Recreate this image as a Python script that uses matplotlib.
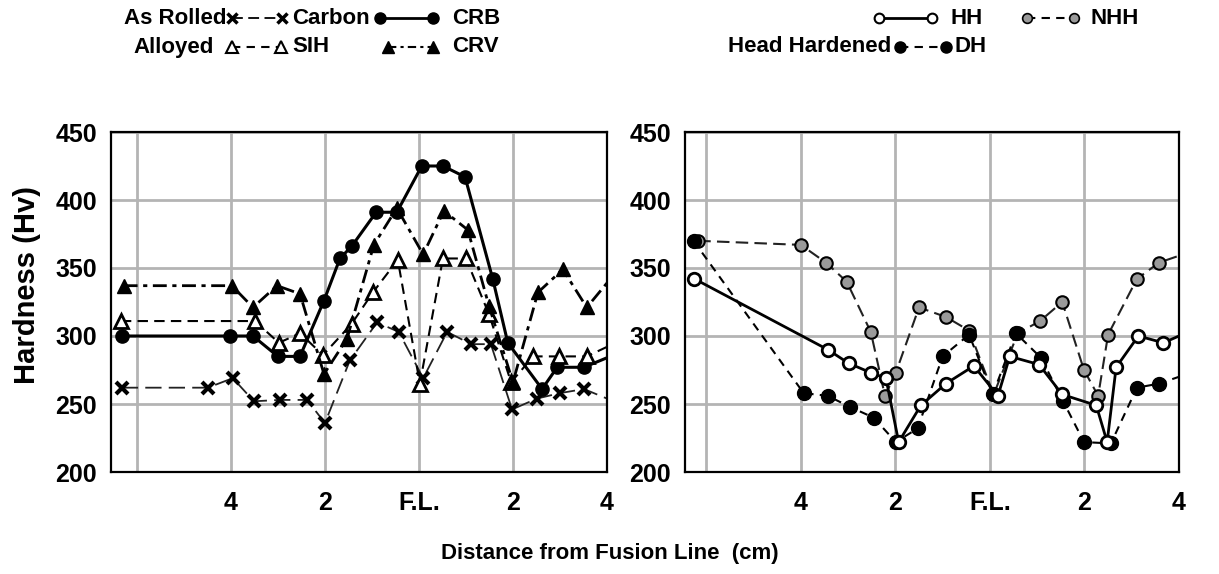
import matplotlib
matplotlib.use("Agg")
import matplotlib.pyplot as plt

plt.rcParams['font.family'] = ['Liberation Sans', 'DejaVu Sans']
plt.rcParams['font.weight'] = 'bold'

# distance from fusion line in cm (negative = left of F.L.), hardness in Hv
# rail steels: as rolled carbon / alloyed
ar_x = [-6.32, -4.49, -3.96, -3.51, -2.96, -2.38, -2.0, -1.47, -0.89, -0.43, 0.09, 0.6, 1.11, 1.53, 1.98, 2.51, 3.0, 3.51, 4.0]
ar_y = [262, 262, 269, 252, 253, 253, 236, 282, 310, 303, 269, 303, 294, 294, 246, 254, 258, 261, 254]

crb_x = [-6.32, -4.02, -3.53, -3.0, -2.53, -2.02, -1.68, -1.43, -0.91, -0.47, 0.06, 0.51, 0.98, 1.57, 1.89, 2.62, 2.94, 3.51, 4.0]
crb_y = [300, 300, 300, 285, 285, 326, 357, 366, 391, 391, 425, 425, 417, 342, 295, 261, 277, 277, 284]

sih_x = [-6.34, -3.49, -2.98, -2.53, -2.04, -1.43, -0.98, -0.45, 0.02, 0.51, 1.0, 1.49, 1.96, 2.43, 2.98, 3.57, 4.0]
sih_y = [311, 311, 295, 302, 286, 309, 332, 356, 265, 357, 357, 316, 266, 285, 285, 285, 292]

crv_x = [-6.28, -3.98, -3.53, -3.02, -2.53, -2.02, -1.53, -0.96, -0.47, 0.09, 0.53, 1.04, 1.49, 2.0, 2.53, 3.06, 3.57, 4.0]
crv_y = [337, 337, 321, 337, 331, 272, 298, 367, 394, 360, 392, 378, 322, 266, 332, 349, 321, 339]

# head hardened rails
hh_x = [-6.25, -3.43, -2.99, -2.52, -2.2, -1.93, -1.46, -0.93, -0.34, 0.17, 0.42, 1.04, 1.53, 2.25, 2.48, 2.67, 3.14, 3.67, 4.0]
hh_y = [342, 290, 280, 273, 269, 222, 249, 265, 278, 256, 285, 279, 257, 249, 222, 277, 300, 295, 300]

nhh_x = [-6.17, -4.0, -3.47, -3.03, -2.52, -2.22, -1.99, -1.5, -0.93, -0.44, 0.08, 0.59, 1.06, 1.53, 1.99, 2.29, 2.5, 3.11, 3.58, 4.0]
nhh_y = [370, 367, 354, 340, 303, 256, 273, 321, 314, 304, 257, 302, 311, 325, 275, 256, 301, 342, 354, 359]

dh_x = [-6.27, -3.94, -3.43, -2.97, -2.46, -1.99, -1.53, -1.0, -0.44, 0.06, 0.55, 1.08, 1.55, 1.99, 2.56, 3.11, 3.58, 4.0]
dh_y = [370, 258, 256, 248, 240, 222, 232, 285, 301, 257, 302, 284, 252, 222, 221, 262, 265, 270]

xticks = [-6, -4, -2, 0, 2, 4]
xticklabels = ['', '4', '2', 'F.L.', '2', '4']
yticks = [200, 250, 300, 350, 400, 450]

W, H = 1219, 574
fig = plt.figure(figsize=(W / 100, H / 100), dpi=100)

ax1 = fig.add_axes([111 / W, 1 - 472 / H, 496 / W, 340 / H])
ax2 = fig.add_axes([685 / W, 1 - 472 / H, 494 / W, 340 / H])

# last point of each series is where the line leaves the frame, no marker there
noend = slice(0, -1)

ax1.plot(ar_x, ar_y, color='#222222', lw=1.3, dashes=(9, 4), marker='x', ms=8, mew=3,
         mec='black', markevery=noend)
ax1.plot(crb_x, crb_y, color='black', lw=2.2, marker='o', ms=9.5, mfc='black',
         mec='black', markevery=noend)
ax1.plot(sih_x, sih_y, color='black', lw=1.5, dashes=(5, 3), marker='^', ms=10,
         mfc='white', mec='black', mew=2, markevery=noend)
ax1.plot(crv_x, crv_y, color='black', lw=2, dashes=(5, 2, 1.5, 2), marker='^', ms=10,
         mfc='black', mec='black', markevery=noend)
ax1.set_xlim(-6.55, 4)

ax2.plot(nhh_x, nhh_y, color='#222222', lw=1.5, dashes=(6, 3), marker='o', ms=9,
         mfc='#9a9a9a', mec='black', mew=1.5, markevery=noend)
ax2.plot(dh_x, dh_y, color='black', lw=1.5, dashes=(4, 3), marker='o', ms=10,
         mfc='black', mec='black', markevery=noend)
ax2.plot(hh_x, hh_y, color='black', lw=2, marker='o', ms=9, mfc='white',
         mec='black', mew=2, markevery=noend)
ax2.set_xlim(-6.45, 4)

for ax in (ax1, ax2):
    ax.set_ylim(200, 450)
    ax.set_xticks(xticks)
    ax.set_xticklabels(xticklabels)
    ax.set_yticks(yticks)
    ax.grid(True, color='#b4b4b4', lw=2)
    ax.set_axisbelow(True)
    ax.tick_params(length=0, labelsize=18, pad=10)
    ax.tick_params(axis='x', pad=14)
    for s in ax.spines.values():
        s.set_linewidth(1.6)
        s.set_color('black')
    for lab in ax.get_xticklabels() + ax.get_yticklabels():
        lab.set_fontweight('bold')

fig.text(27 / W, 1 - 285 / H, 'Hardness (Hv)', rotation=90, ha='center', va='center',
         fontsize=21, fontweight='bold')
fig.text(610 / W, 1 - 553 / H, 'Distance from Fusion Line  (cm)', ha='center',
         va='center', fontsize=16, fontweight='bold')

# legend block drawn on an overlay in pixel units
lg = fig.add_axes([0, 0, 1, 1])
lg.set_xlim(0, W)
lg.set_ylim(H, 0)
lg.axis('off')

fs = 16
r1, r2 = 18, 47


def sample(x0, x1, y, **kw):
    lg.plot([x0, x1], [y, y], **kw)


lg.text(226, r1, 'As Rolled', ha='right', va='center', fontsize=fs, fontweight='bold')
sample(232, 282, r1, color='black', lw=1.3, dashes=(6, 3), marker='x', ms=7, mew=2.5)
lg.text(292, r1, 'Carbon', ha='left', va='center', fontsize=fs, fontweight='bold')
sample(380, 433, r1, color='black', lw=2, marker='o', ms=8, mfc='black')
lg.text(452, r1, 'CRB', ha='left', va='center', fontsize=fs, fontweight='bold')

lg.text(133, r2, 'Alloyed', ha='left', va='center', fontsize=fs, fontweight='bold')
sample(232, 281, r2, color='black', lw=1.5, dashes=(4, 3), marker='^', ms=8,
       mfc='white', mec='black', mew=1.5)
lg.text(292, r2, 'SIH', ha='left', va='center', fontsize=fs, fontweight='bold')
sample(388, 433, r2, color='black', lw=1.5, dashes=(4, 2, 1.5, 2), marker='^', ms=8,
       mfc='black')
lg.text(452, r2, 'CRV', ha='left', va='center', fontsize=fs, fontweight='bold')

sample(879, 932, r1, color='black', lw=2, marker='o', ms=7, mfc='white', mec='black',
       mew=1.5)
lg.text(950, r1, 'HH', ha='left', va='center', fontsize=fs, fontweight='bold')
sample(1027, 1074, r1, color='black', lw=1.5, dashes=(4, 3), marker='o', ms=7,
       mfc='#9a9a9a', mec='black', mew=1.2)
lg.text(1090, r1, 'NHH', ha='left', va='center', fontsize=fs, fontweight='bold')

lg.text(891, r2, 'Head Hardened', ha='right', va='center', fontsize=fs, fontweight='bold')
sample(900, 946, r2, color='black', lw=1.5, dashes=(4, 3), marker='o', ms=8,
       mfc='black')
lg.text(954, r2, 'DH', ha='left', va='center', fontsize=fs, fontweight='bold')

fig.savefig('out.png', dpi=100)
